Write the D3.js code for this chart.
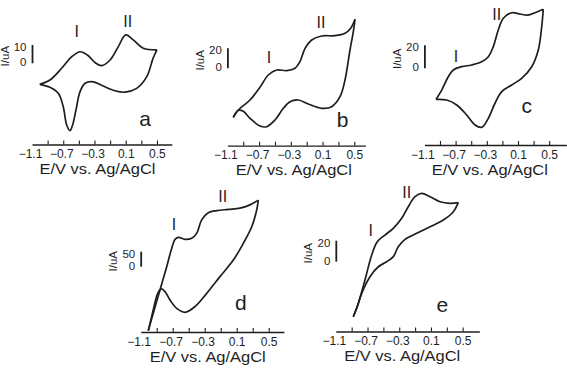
<!DOCTYPE html>
<html>
<head>
<meta charset="utf-8">
<script src="https://cdn.jsdelivr.net/npm/d3@7"></script>
<style>
  html, body { margin: 0; padding: 0; background: #fff; }
  svg { display: block; font-family: Arial, "Liberation Sans", sans-serif; }
</style>
</head>
<body>
<svg id="chart" width="567" height="372"></svg>
<script>
// shared potential axis (V)
const potentialTicks = [-1.1, -0.9, -0.7, -0.5, -0.3, -0.1, 0.1, 0.3, 0.5];
const potentialLabels = [-1.1, -0.7, -0.3, 0.1, 0.5];
const panelLetters = ["a", "b", "c", "d", "e"];
const scaleBarValues = [10, 20, 20, 50, 20];   // uA
const peakNames = ["I", "II"];

// [E (V), I (uA)]; forward = upper branch, reverse = lower
const aForward = [[-1.0,-11.5],[-0.87,-9.1],[-0.72,-2.7],[-0.59,3.6],[-0.485,6.3],[-0.39,4.5],[-0.29,0.3],[-0.21,-1.3],[-0.10,1.8],[0.005,9.1],[0.10,15.5],[0.20,12.7],[0.325,8.2],[0.50,7.3]];
const aReverse = [[0.50,7.3],[0.45,2.7],[0.37,-7.3],[0.24,-13.7],[0.09,-15.8],[-0.04,-15.0],[-0.19,-12.4],[-0.315,-10.1],[-0.42,-10.9],[-0.485,-15.5],[-0.537,-25.5],[-0.58,-33.7],[-0.613,-36.8],[-0.656,-33.7],[-0.70,-23.7],[-0.763,-16.4],[-0.87,-13.1],[-1.0,-11.5]];

const bForward = [[-1.026,-49],[-0.963,-41.7],[-0.815,-31.7],[-0.689,-19],[-0.584,-6.7],[-0.478,-1.7],[-0.352,-2.4],[-0.248,0],[-0.185,6.6],[-0.121,20],[-0.037,28.3],[0.089,32.3],[0.257,32.6],[0.383,35],[0.455,40],[0.509,49]];
const bReverse = [[0.509,49],[0.488,36.6],[0.446,18.3],[0.383,-11.7],[0.32,-28.4],[0.215,-38.4],[0.089,-40],[-0.08,-35.7],[-0.206,-31.7],[-0.31,-33.4],[-0.395,-40],[-0.50,-51.7],[-0.604,-58.4],[-0.689,-57.7],[-0.815,-50],[-0.9,-43],[-0.96,-42],[-1.026,-49]];

const cForward = [[-0.951,-27],[-0.878,-18.9],[-0.794,-7.3],[-0.73,-1.5],[-0.622,1.4],[-0.494,2.9],[-0.366,5.7],[-0.28,10.1],[-0.217,18.8],[-0.153,33.3],[-0.088,43.5],[0.019,48.3],[0.126,47.2],[0.224,46.3],[0.318,48.3],[0.424,51.3]];
const cReverse = [[0.424,51.3],[0.404,36.2],[0.36,15.9],[0.276,1.4],[0.147,-8.7],[0.019,-14.5],[-0.109,-20.3],[-0.195,-30.4],[-0.281,-43.5],[-0.365,-51.3],[-0.451,-49.3],[-0.558,-40.6],[-0.686,-31.9],[-0.814,-27.6],[-0.951,-27]];

const dForward = [[-1.005,-213],[-0.943,-155],[-0.859,-78],[-0.775,0],[-0.713,61],[-0.671,91],[-0.63,98],[-0.546,91],[-0.463,95],[-0.40,111],[-0.338,156],[-0.255,180],[-0.15,187],[-0.005,191],[0.141,195],[0.266,206],[0.37,222]];
const dReverse = [[0.37,222],[0.35,189],[0.288,133],[0.183,78],[0.058,22],[-0.109,-33],[-0.275,-89],[-0.421,-133],[-0.546,-152],[-0.65,-139],[-0.734,-111],[-0.796,-83],[-0.84,-74],[-0.87,-80],[-0.9,-98],[-0.935,-135],[-0.968,-172],[-1.005,-213]];

const eForward = [[-0.879,-52.4],[-0.816,-39.6],[-0.732,-17.4],[-0.647,6.4],[-0.577,19],[-0.48,25.4],[-0.375,31.8],[-0.269,41.3],[-0.186,52.4],[-0.101,61.9],[-0.017,65.1],[0.088,61.9],[0.214,57.1],[0.34,55.6],[0.445,56.2]];
const eReverse = [[0.445,56.2],[0.382,47.6],[0.256,39.7],[0.088,33.3],[-0.08,27],[-0.227,21.3],[-0.312,14.3],[-0.375,4.8],[-0.458,0],[-0.564,-4.8],[-0.669,-14.3],[-0.773,-30.1],[-0.836,-44.4],[-0.879,-52.4]];

const curves = [[aForward, aReverse], [bForward, bReverse], [cForward, cReverse], [dForward, dReverse], [eForward, eReverse]];

// where each panel sits on the page (px)
const layout = [
  { x0: 32,    pxPerV: 78.1, xMax: 0.69, axisY: 144.5, y0: 63.3,  pxPerUA: 1.83, peaks: [[76.7, 36.7], [127.7, 26.7]], letter: [145, 126] },
  { x0: 227.4, pxPerV: 79.3, xMax: 0.64, axisY: 145.7, y0: 68.3,  pxPerUA: 1.0,  peaks: [[269, 62.7], [321, 28.3]],    letter: [342.5, 126.7] },
  { x0: 424.4, pxPerV: 78.0, xMax: 0.72, axisY: 145,   y0: 68.3,  pxPerUA: 1.15, peaks: [[456, 61.7], [496.7, 20]],    letter: [526.7, 113.3] },
  { x0: 140.7, pxPerV: 80.0, xMax: 0.69, axisY: 332,   y0: 266.7, pxPerUA: 0.3,  peaks: [[174, 230], [222.7, 202.3]],  letter: [240.8, 310] },
  { x0: 335.8, pxPerV: 79.3, xMax: 0.71, axisY: 331.5, y0: 261.7, pxPerUA: 1.05, peaks: [[370.7, 236], [406.7, 198.3]], letter: [442.3, 311.7] }
];

const ink = "#1e1e1e";
const svg = d3.select("#chart");

layout.forEach((p, i) => {
  const g = svg.append("g");

  const x = d3.scaleLinear()
    .domain([-1.1, p.xMax])
    .range([p.x0, p.x0 + (p.xMax + 1.1) * p.pxPerV]);
  const y = d3.scaleLinear()
    .domain([0, 1])
    .range([p.y0, p.y0 - p.pxPerUA]);

  // potential axis, ticks pointing up
  const axis = d3.axisBottom(x)
    .tickValues(potentialTicks)
    .tickSizeInner(-4)
    .tickSizeOuter(0)
    .tickPadding(5)
    .tickFormat(d => potentialLabels.some(v => Math.abs(v - d) < 1e-9) ? d3.format(".1f")(d) : "");

  const ax = g.append("g")
    .attr("transform", "translate(0," + p.axisY + ")")
    .call(axis);
  ax.select(".domain").attr("stroke", ink).attr("stroke-width", 1.3);
  ax.selectAll(".tick line").attr("stroke", ink).attr("stroke-width", 1.1)
    .filter(d => d === -1.1).remove();
  ax.selectAll(".tick text")
    .attr("fill", ink)
    .style("font-size", "12px")
    .attr("dx", d => d < 0 ? -2 : 0);
  ax.attr("font-family", null).attr("font-size", null);

  g.append("text")
    .attr("x", x(-0.3) + 3)
    .attr("y", p.axisY + 29.5)
    .attr("text-anchor", "middle")
    .attr("fill", ink)
    .attr("textLength", 116)
    .attr("lengthAdjust", "spacingAndGlyphs")
    .style("font-size", "14px")
    .text("E/V vs. Ag/AgCl");

  // current scale bar
  const bar = scaleBarValues[i];
  const bx = x(-1.1) + 0.5;
  g.append("line")
    .attr("x1", bx).attr("x2", bx)
    .attr("y1", y(0)).attr("y2", y(bar))
    .attr("stroke", ink).attr("stroke-width", 1.8);
  g.append("text")
    .attr("x", bx - 6).attr("y", y(bar) + 6)
    .attr("text-anchor", "end").attr("fill", ink)
    .style("font-size", "11.5px")
    .text(bar);
  g.append("text")
    .attr("x", bx - 6).attr("y", y(0) + 3)
    .attr("text-anchor", "end").attr("fill", ink)
    .style("font-size", "11.5px")
    .text("0");
  const ly = (y(0) + y(bar)) / 2 + 2;
  g.append("text")
    .attr("transform", "translate(" + (bx - 24) + "," + ly + ") rotate(-90)")
    .attr("text-anchor", "middle").attr("fill", ink)
    .style("font-size", "11.5px")
    .text("I/uA");

  // voltammogram
  const line = d3.line()
    .x(d => x(d[0]))
    .y(d => y(d[1]))
    .curve(d3.curveCatmullRom.alpha(0.5));
  curves[i].forEach(branch => {
    g.append("path")
      .datum(branch)
      .attr("d", line)
      .attr("fill", "none")
      .attr("stroke", ink)
      .attr("stroke-width", 1.7)
      .attr("stroke-linejoin", "round");
  });

  // peak names and panel letter
  p.peaks.forEach((pt, k) => {
    g.append("text")
      .attr("x", pt[0]).attr("y", pt[1])
      .attr("text-anchor", "middle").attr("fill", ink)
      .style("font-size", "16px")
      .text(peakNames[k]);
  });
  g.append("text")
    .attr("x", p.letter[0]).attr("y", p.letter[1])
    .attr("text-anchor", "middle").attr("fill", ink)
    .style("font-size", "21px")
    .text(panelLetters[i]);
});
</script>
</body>
</html>
